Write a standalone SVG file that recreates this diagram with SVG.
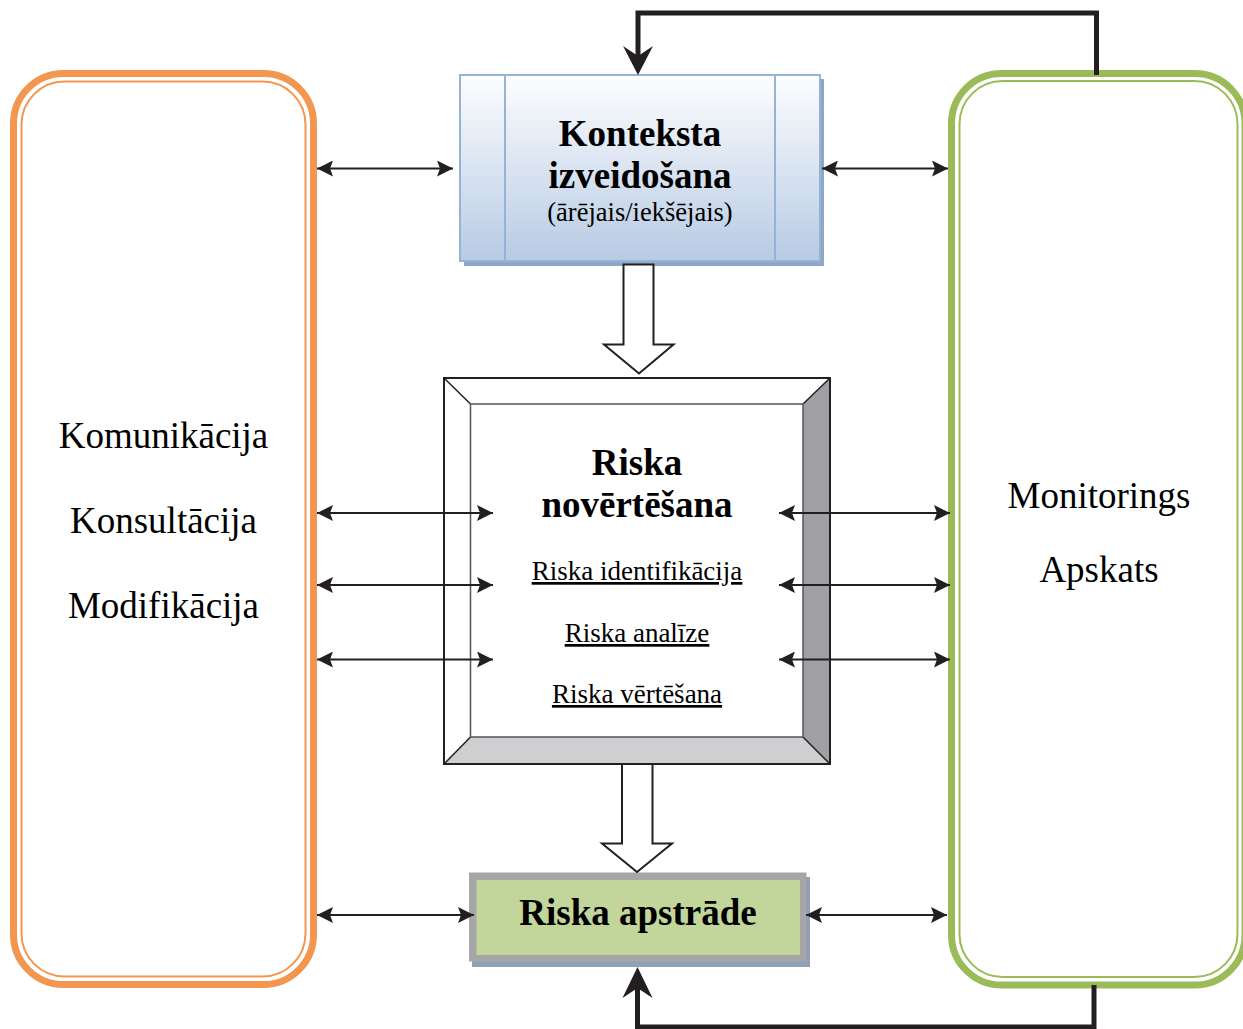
<svg xmlns="http://www.w3.org/2000/svg" width="1243" height="1029" viewBox="0 0 1243 1029">
  <style>
    text { font-family: "Liberation Serif", "Times New Roman", serif; fill: #000; text-anchor: middle; }
    .big { font-size: 37px; }
    .bold { font-size: 37px; font-weight: bold; }
    .sub { font-size: 26.5px; }
    .ul { font-size: 27px; text-decoration: underline; }
    .conn { stroke: #231f20; stroke-width: 2; fill: none; marker-start: url(#tip); marker-end: url(#tip); }
    .loop { stroke: #231f20; stroke-width: 5; fill: none; stroke-linejoin: miter; }
    .block { fill: #fff; stroke: #231f20; stroke-width: 2; stroke-linejoin: miter; }
  </style>
  <defs>
    <marker id="tip" viewBox="0 0 16 16" refX="16" refY="8" markerWidth="16" markerHeight="16" markerUnits="userSpaceOnUse" orient="auto-start-reverse">
      <path d="M0,0 L16,8 L0,16 L3,8 Z" fill="#231f20"/>
    </marker>
    <linearGradient id="ctxFill" x1="0" y1="0" x2="0" y2="1">
      <stop offset="0" stop-color="#fdfdfe"/>
      <stop offset="1" stop-color="#b7cbe4"/>
    </linearGradient>
  </defs>

  <rect width="1243" height="1029" fill="#fff"/>

  <!-- Communication / consultation panel -->
  <g id="komunikacija">
    <rect x="13.5" y="73.5" width="300" height="911" rx="50" fill="#fff" stroke="#f29650" stroke-width="7"/>
    <rect x="21.5" y="81.5" width="284" height="895" rx="43" fill="none" stroke="#f29650" stroke-width="2"/>
    <text class="big" x="163.5" y="448">Komunikācija</text>
    <text class="big" x="163.5" y="533">Konsultācija</text>
    <text class="big" x="163.5" y="618">Modifikācija</text>
  </g>

  <!-- Monitoring / review panel -->
  <g id="monitorings">
    <rect x="951.5" y="73.5" width="293.5" height="911.5" rx="50" fill="#fff" stroke="#9bbb59" stroke-width="7"/>
    <rect x="959.5" y="81" width="278" height="896" rx="43" fill="none" stroke="#9bbb59" stroke-width="2"/>
    <text class="big" x="1099" y="508">Monitorings</text>
    <text class="big" x="1099" y="582">Apskats</text>
  </g>

  <!-- Context establishment -->
  <g id="konteksta">
    <rect x="464" y="79" width="360" height="187" fill="#8fa6c4"/>
    <rect x="460" y="75" width="360" height="186" fill="url(#ctxFill)" stroke="#95b3d7" stroke-width="2"/>
    <line x1="505" y1="75" x2="505" y2="261" stroke="#95b3d7" stroke-width="2"/>
    <line x1="775" y1="75" x2="775" y2="261" stroke="#95b3d7" stroke-width="2"/>
    <text class="bold" x="640" y="146">Konteksta</text>
    <text class="bold" x="640" y="188">izveidošana</text>
    <text class="sub" x="640" y="221">(ārējais/iekšējais)</text>
  </g>

  <!-- Risk assessment -->
  <g id="novertesana">
    <rect x="444" y="378" width="386" height="386" fill="#fff"/>
    <polygon points="830,378 803,404 803,737 830,764" fill="#a0a0a4"/>
    <polygon points="444,764 470.5,737 803,737 830,764" fill="#cfcfd1"/>
    <g stroke="#231f20" stroke-width="1.5" fill="none">
      <line x1="444" y1="378" x2="470.5" y2="404"/>
      <line x1="830" y1="378" x2="803" y2="404"/>
      <line x1="444" y1="764" x2="470.5" y2="737"/>
      <line x1="830" y1="764" x2="803" y2="737"/>
      <rect x="470.5" y="404" width="332.5" height="333" stroke="#555"/>
      <rect x="444" y="378" width="386" height="386" stroke-width="2"/>
    </g>
    <text class="bold" x="637" y="475">Riska</text>
    <text class="bold" x="637" y="517">novērtēšana</text>
    <text class="ul" x="637" y="580">Riska identifikācija</text>
    <text class="ul" x="637" y="642">Riska analīze</text>
    <text class="ul" x="637" y="703">Riska vērtēšana</text>
  </g>

  <!-- Risk treatment -->
  <g id="apstrade">
    <rect x="472" y="877" width="338" height="90" fill="#8fa1b5"/>
    <rect x="469" y="872.5" width="337.5" height="89" fill="#a6a6a9"/>
    <rect x="476.5" y="880" width="323.5" height="75" fill="#c2d69b"/>
    <text class="bold" x="638" y="925">Riska apstrāde</text>
  </g>

  <!-- Connectors -->
  <g id="connectors">
    <line class="conn" x1="317" y1="168.5" x2="453" y2="168.5"/>
    <line class="conn" x1="822" y1="168.5" x2="948" y2="168.5"/>

    <line class="conn" x1="317" y1="513" x2="493" y2="513"/>
    <line class="conn" x1="317" y1="585" x2="493" y2="585"/>
    <line class="conn" x1="317" y1="659.5" x2="493" y2="659.5"/>
    <line class="conn" x1="779" y1="513" x2="950" y2="513"/>
    <line class="conn" x1="779" y1="585" x2="950" y2="585"/>
    <line class="conn" x1="779" y1="659.5" x2="950" y2="659.5"/>

    <line class="conn" x1="317" y1="915" x2="474" y2="915"/>
    <line class="conn" x1="806" y1="915" x2="947" y2="915"/>

    <!-- hollow flow arrows -->
    <polygon class="block" points="623.5,264.5 653.5,264.5 653.5,344.5 673.5,344.5 639,373.5 604,344.5 623.5,344.5"/>
    <polygon class="block" points="622,764 652.5,764 652.5,843.5 672,843.5 637,872 602,843.5 622,843.5"/>

    <!-- feedback loops -->
    <polyline class="loop" points="1096.5,75 1096.5,13 638,13 638,56"/>
    <path d="M638,75 L623,46 L638,56 L653,46 Z" fill="#231f20"/>
    <polyline class="loop" points="1094,985 1094,1027 637.5,1027 637.5,987"/>
    <path d="M637.5,967 L622.5,998 L637.5,988 L652.5,998 Z" fill="#231f20"/>
  </g>
</svg>
